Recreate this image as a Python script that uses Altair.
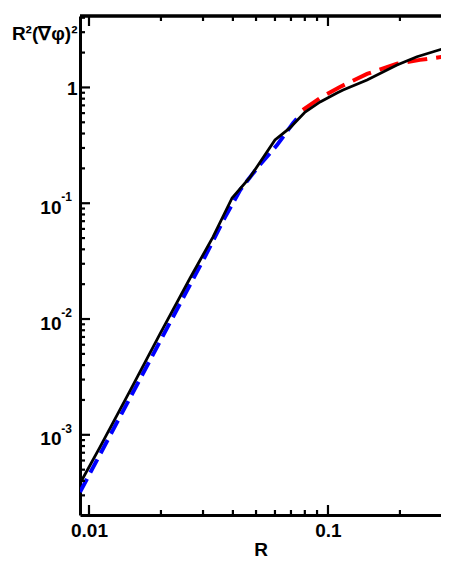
import altair as alt
import pandas as pd

# ---- data ----
black_R = [0.00917, 0.0111, 0.0149, 0.0198, 0.0265, 0.0330, 0.0397, 0.0472, 0.0600,
           0.0693, 0.0802, 0.0927, 0.109, 0.1156, 0.1457, 0.1944, 0.2357, 0.3208]
black_v = [3.8e-4, 7.8e-4, 2.43e-3, 7.4e-3, 0.0226, 0.0510, 0.111, 0.168, 0.352,
           0.447, 0.614, 0.750, 0.896, 0.952, 1.16, 1.56, 1.84, 2.24]

blue_R = [0.00917, 0.0163, 0.0305, 0.0371, 0.0429, 0.0510, 0.0612, 0.0715, 0.0764]
blue_v = [3.2e-4, 3.0e-3, 0.0343, 0.0760, 0.130, 0.206, 0.318, 0.493, 0.578]

red_R = [0.0785, 0.0927, 0.1122, 0.1457, 0.1944, 0.2427, 0.3208]
red_v = [0.639, 0.811, 1.01, 1.31, 1.60, 1.73, 1.87]

x_major = [0.01, 0.1]
x_minor = [0.02, 0.03, 0.04, 0.05, 0.06, 0.07, 0.08, 0.09, 0.2]
y_major = [1e-3, 1e-2, 1e-1, 1]
y_minor = [3e-4, 4e-4, 5e-4, 6e-4, 7e-4, 8e-4, 9e-4,
           2e-3, 3e-3, 4e-3, 5e-3, 6e-3, 7e-3, 8e-3, 9e-3,
           2e-2, 3e-2, 4e-2, 5e-2, 6e-2, 7e-2, 8e-2, 9e-2,
           0.2, 0.3, 0.4, 0.5, 0.6, 0.7, 0.8, 0.9, 2, 3, 4]
y_exp_values = [1e-3, 1e-2, 1e-1]
y_exp_labels = ["-3", "-2", "-1"]

x_domain = [0.00917, 0.2971]
y_domain = [2.03e-4, 4.14]

W, H = 361, 499
FONT = "Liberation Sans"

xs = alt.Scale(type="log", domain=x_domain, nice=False)
ys = alt.Scale(type="log", domain=y_domain, nice=False)

x_axis = alt.Axis(
    values=x_major, labelExpr="format(datum.value, '~g')", ticks=False, grid=False,
    domainWidth=3, domainColor="black", labelFont=FONT, labelFontSize=19,
    labelFontWeight="bold", labelColor="black", labelPadding=6,
    title="R", titleFont=FONT, titleFontSize=19, titleFontWeight="bold",
    titleColor="black", titlePadding=0,
)
y_axis = alt.Axis(
    values=y_major, labelExpr="datum.value == 1 ? '1' : '10'", ticks=False, grid=False,
    domainWidth=3, domainColor="black", labelFont=FONT, labelFontSize=19,
    labelFontWeight="bold", labelColor="black",
    labelPadding={"condition": {"test": "datum.value == 1", "value": 3}, "value": 19},
    labelOffset={"condition": {"test": "datum.value == 1", "value": 1}, "value": 4},
    title="R²(∇φ)²", titleFont=FONT, titleFontSize=19, titleFontWeight="bold",
    titleColor="black", titleAngle=0, titleAlign="right", titleBaseline="middle",
    titleX=-3, titleY=17,
)

X = alt.X("R:Q", scale=xs, axis=x_axis)
Y = alt.Y("v:Q", scale=ys, axis=y_axis)

df_black = pd.DataFrame({"R": black_R, "v": black_v})
df_blue = pd.DataFrame({"R": blue_R, "v": blue_v})
df_red = pd.DataFrame({"R": red_R, "v": red_v})

blue = alt.Chart(df_blue).mark_line(
    color="#0000ff", strokeWidth=4, strokeDash=[15, 7], clip=True
).encode(x=X, y=Y)
red = alt.Chart(df_red).mark_line(
    color="#ff0000", strokeWidth=4, strokeDash=[20, 9], clip=True
).encode(x=X, y=Y)
black = alt.Chart(df_black).mark_line(
    color="black", strokeWidth=2.8, clip=True
).encode(x=X, y=Y)

df_xmaj = pd.DataFrame({"R": x_major})
df_xmin = pd.DataFrame({"R": x_minor})
df_ymaj = pd.DataFrame({"v": y_major})
df_ymin = pd.DataFrame({"v": y_minor})

tick_style = dict(color="black", strokeWidth=2.2)

bx_maj = alt.Chart(df_xmaj).mark_rule(**tick_style).encode(
    x=X, y=alt.value(H), y2=alt.value(H - 10))
bx_min = alt.Chart(df_xmin).mark_rule(**tick_style).encode(
    x=X, y=alt.value(H), y2=alt.value(H - 5))
tx_maj = alt.Chart(df_xmaj).mark_rule(**tick_style).encode(
    x=X, y=alt.value(0), y2=alt.value(10))
tx_min = alt.Chart(df_xmin).mark_rule(**tick_style).encode(
    x=X, y=alt.value(0), y2=alt.value(5))
ly_maj = alt.Chart(df_ymaj).mark_rule(**tick_style).encode(
    y=Y, x=alt.value(0), x2=alt.value(10))
ly_min = alt.Chart(df_ymin).mark_rule(**tick_style).encode(
    y=Y, x=alt.value(0), x2=alt.value(5))

top_line = alt.Chart(df_xmaj).mark_rule(color="black", strokeWidth=3).encode(
    x=alt.value(0), x2=alt.value(W), y=alt.value(0))

df_exp = pd.DataFrame({"v": y_exp_values, "lab": y_exp_labels})
exps = alt.Chart(df_exp).mark_text(
    align="right", baseline="middle", font=FONT, fontSize=12, fontWeight="bold",
    color="black", dy=-6
).encode(y=Y, x=alt.value(-8), text="lab:N")

chart = alt.layer(
    blue, red, black, bx_maj, bx_min, tx_maj, tx_min, ly_maj, ly_min, top_line, exps
).properties(
    width=W, height=H,
    autosize=alt.AutoSizeParams(type="none"),
    padding={"left": 72, "top": 8, "right": 0, "bottom": 49},
    background="white",
).configure_view(stroke=None)

chart.save("out.html", embed_options={"renderer": "svg", "actions": False})
